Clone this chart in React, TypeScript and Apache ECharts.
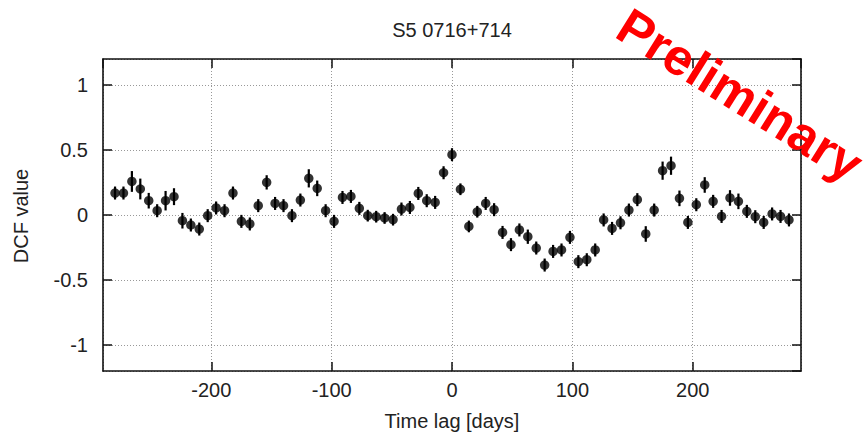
import React, { useEffect, useRef } from "react";
import * as echarts from "echarts";

const TITLE = "S5 0716+714";
const X_NAME = "Time lag [days]";
const Y_NAME = "DCF value";
const WATERMARK = "Preliminary";

const lags: number[] = [
  -280, -273, -266, -259, -252, -245, -238, -231, -224, -217, -210, -203, -196, -189, -182, -175,
  -168, -161, -154, -147, -140, -133, -126, -119, -112, -105, -98, -91, -84, -77, -70, -63, -56,
  -49, -42, -35, -28, -21, -14, -7, 0, 7, 14, 21, 28, 35, 42, 49, 56, 63, 70, 77, 84, 91, 98, 105,
  112, 119, 126, 133, 140, 147, 154, 161, 168, 175, 182, 189, 196, 203, 210, 217, 224, 231, 238,
  245, 252, 259, 266, 273, 280,
];

const dcf: number[] = [
  0.169, 0.169, 0.258, 0.2, 0.11, 0.033, 0.11, 0.141, -0.044, -0.077, -0.108, -0.005, 0.054, 0.033,
  0.169, -0.049, -0.069, 0.072, 0.251, 0.089, 0.072, -0.005, 0.115, 0.282, 0.205, 0.033, -0.049,
  0.135, 0.143, 0.051, -0.005, -0.013, -0.023, -0.036, 0.046, 0.058, 0.166, 0.11, 0.097, 0.325,
  0.464, 0.198, -0.088, 0.025, 0.089, 0.041, -0.134, -0.228, -0.115, -0.167, -0.254, -0.385, -0.28,
  -0.269, -0.172, -0.359, -0.344, -0.269, -0.038, -0.103, -0.06, 0.038, 0.118, -0.146, 0.038, 0.341,
  0.379, 0.128, -0.057, 0.079, 0.231, 0.105, -0.011, 0.131, 0.105, 0.028, -0.013, -0.057, 0.008,
  -0.011, -0.038,
];

const dcfErr: number[] = [
  0.05, 0.05, 0.08, 0.08, 0.06, 0.05, 0.075, 0.065, 0.06, 0.05, 0.05, 0.05, 0.05, 0.05, 0.05, 0.05,
  0.05, 0.05, 0.055, 0.05, 0.05, 0.05, 0.05, 0.07, 0.06, 0.05, 0.05, 0.05, 0.05, 0.05, 0.045, 0.045,
  0.045, 0.045, 0.05, 0.05, 0.05, 0.05, 0.05, 0.05, 0.05, 0.045, 0.045, 0.045, 0.05, 0.05, 0.05, 0.05,
  0.05, 0.055, 0.05, 0.05, 0.05, 0.05, 0.05, 0.05, 0.05, 0.05, 0.05, 0.05, 0.05, 0.05, 0.05, 0.06,
  0.05, 0.07, 0.07, 0.06, 0.05, 0.05, 0.06, 0.05, 0.05, 0.06, 0.06, 0.05, 0.05, 0.05, 0.05, 0.05, 0.05,
];

const xTickInterval = 100;
const yTickInterval = 0.5;

const FONT = "'Liberation Sans', Arial, Helvetica, sans-serif";

export default function App() {
  const ref = useRef<HTMLDivElement>(null);
  useEffect(() => {
    if (!ref.current) return;
    const chart = echarts.init(ref.current, null, { renderer: "svg" });
    const points = lags.map((l, i) => [l, dcf[i], dcfErr[i]]);
    const axisLine = { show: true, onZero: false, lineStyle: { color: "#111", width: 1.6 } };
    const tick = { show: true, inside: true, length: 9, lineStyle: { color: "#111", width: 1.5 } };
    const xCommon = {
      type: "value",
      min: -290,
      max: 290,
      minInterval: xTickInterval,
      maxInterval: xTickInterval,
      axisLine,
      axisTick: tick,
    };
    const yCommon = {
      type: "value",
      min: -1.2,
      max: 1.2,
      minInterval: yTickInterval,
      maxInterval: yTickInterval,
      axisLine,
      axisTick: tick,
    };
    chart.setOption({
      animation: false,
      backgroundColor: "#fff",
      grid: { left: 103, right: 67, top: 59, bottom: 64, containLabel: false },
      xAxis: [
        {
          ...xCommon,
          position: "bottom",
          axisLabel: {
            show: true,
            margin: 9,
            fontSize: 20,
            color: "#222",
            fontFamily: FONT,
            showMinLabel: false,
            showMaxLabel: false,
          },
          splitLine: { show: true, lineStyle: { color: "#999", width: 1, type: [1, 2] } },
        },
        {
          ...xCommon,
          position: "top",
          axisLabel: { show: false },
          splitLine: { show: false },
        },
      ],
      yAxis: [
        {
          ...yCommon,
          position: "left",
          axisLabel: {
            show: true,
            margin: 15,
            fontSize: 20,
            color: "#222",
            fontFamily: FONT,
            showMinLabel: false,
            showMaxLabel: false,
          },
          splitLine: { show: true, lineStyle: { color: "#999", width: 1, type: [1, 2] } },
        },
        {
          ...yCommon,
          position: "right",
          axisLabel: { show: false },
          splitLine: { show: false },
        },
      ],
      series: [
        {
          type: "custom",
          xAxisIndex: 0,
          yAxisIndex: 0,
          data: points,
          renderItem: (params: any, api: any) => {
            const x = api.value(0);
            const y = api.value(1);
            const e = api.value(2);
            const p1 = api.coord([x, y + e]);
            const p2 = api.coord([x, y - e]);
            return {
              type: "line",
              shape: { x1: p1[0], y1: p1[1], x2: p2[0], y2: p2[1] },
              style: { stroke: "#000", lineWidth: 2.2 },
            };
          },
          silent: true,
          z: 3,
        },
        {
          type: "scatter",
          xAxisIndex: 0,
          yAxisIndex: 0,
          data: points.map((p) => [p[0], p[1]]),
          symbol: "circle",
          symbolSize: 9.5,
          itemStyle: { color: "#000" },
          silent: true,
          z: 4,
        },
      ],
      graphic: [
        {
          type: "text",
          x: 452,
          y: 30,
          style: {
            text: TITLE,
            fontSize: 20,
            fill: "#222",
            fontFamily: FONT,
            textAlign: "center",
            textVerticalAlign: "middle",
          },
        },
        {
          type: "text",
          x: 452,
          y: 421,
          style: {
            text: X_NAME,
            fontSize: 20,
            fill: "#222",
            fontFamily: FONT,
            textAlign: "center",
            textVerticalAlign: "middle",
          },
        },
        {
          type: "text",
          x: 21,
          y: 216,
          rotation: Math.PI / 2,
          style: {
            text: Y_NAME,
            fontSize: 20,
            fill: "#222",
            fontFamily: FONT,
            textAlign: "center",
            textVerticalAlign: "middle",
          },
        },
        {
          type: "text",
          x: 740,
          y: 95,
          rotation: (-32 * Math.PI) / 180,
          z: 100,
          style: {
            text: WATERMARK,
            fontSize: 51,
            fontWeight: "bold",
            fill: "#ff0000",
            fontFamily: FONT,
            textAlign: "center",
            textVerticalAlign: "middle",
          },
        },
      ],
    });
    return () => chart.dispose();
  }, []);
  return <div ref={ref} style={{ width: 868, height: 435, position: "absolute", left: 0, top: 0 }} />;
}
